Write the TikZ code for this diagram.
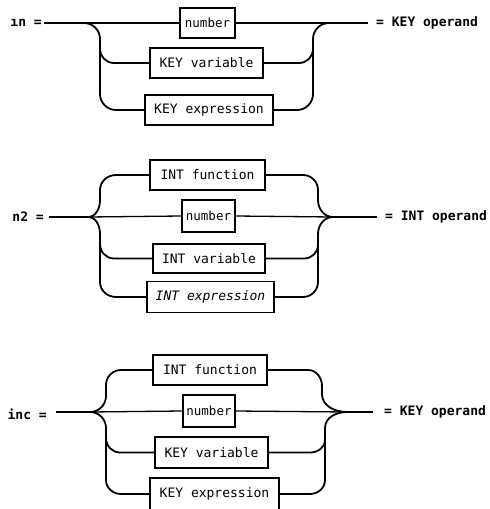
\documentclass[tikz,border=0pt]{standalone}
\usepackage{fontspec}
\newfontfamily\dmono{DejaVu Sans Mono}
\begin{document}
\begin{tikzpicture}[x=1pt,y=-1pt,
  bx/.style={draw,line width=1.3pt,inner sep=0pt,minimum height=30pt,font=\dmono\fontsize{13}{15}\selectfont},
  numbx/.style={bx,font=\dmono\fontsize{12.5}{14}\selectfont},
  conn/.style={line width=1.8pt},
  thin/.style={line width=1.3pt},
  lbl/.style={inner sep=0pt,font=\dmono\bfseries\fontsize{13}{15}\selectfont}]
\useasboundingbox (0,0) rectangle (490,509);
\clip (0,0) rectangle (490,509);

% ---------- diagram 1 ----------
\node[lbl,anchor=east] (l1) at (42,23) {ın =};
\node[numbx,minimum width=55pt] (n1) at (207.5,23) {number};
\node[bx,minimum width=113pt] (v1) at (206.5,63) {KEY variable};
\node[bx,minimum width=128pt] (x1) at (209,110) {KEY expression};
\node[lbl,anchor=west] (r1) at (376,23) {= KEY operand};
\coordinate (a1) at (44,23);
\coordinate (b1) at (76,23);
\coordinate (c1) at (338,23);
\coordinate (e1) at (368,23);
\draw[conn] (a1) -- (b1);
\draw[thin] (b1) -- (n1.west) (n1.east) -- (c1);
\draw[conn] (c1) -- (e1);
\draw[conn,rounded corners=16pt] (b1) -| (100,110) -- (x1.west);
\draw[conn,rounded corners=14pt] (100,45) |- (v1.west);
\draw[conn,rounded corners=16pt] (x1.east) -| (313,23) -- (c1);
\draw[conn,rounded corners=14pt] (v1.east) -| (313,45);

% ---------- diagram 2 ----------
\node[lbl,anchor=east] (l2) at (44,217) {n2 =};
\node[bx,minimum width=115pt] (f2) at (207.5,175) {INT function};
\node[numbx,minimum width=53pt,minimum height=32pt] (n2) at (208.5,216) {number};
\node[bx,minimum width=112pt,minimum height=29pt] (v2) at (209,258.5) {INT variable};
\node[bx,minimum width=127pt,minimum height=31pt,font=\dmono\itshape\fontsize{13}{15}\selectfont] (x2) at (210.5,297) {INT expression};
\node[lbl,anchor=west] (r2) at (385,217) {= INT operand};
\coordinate (a2) at (49,217);
\coordinate (s2) at (88,217);
\coordinate (m2) at (333,217);
\coordinate (e2) at (377,217);
\draw[conn] (a2) -- (s2);
\draw[thin] (s2) -- (n2.west) (n2.east) -- (m2);
\draw[conn] (m2) -- (e2);
\draw[conn] (s2) to[out=0,in=-90] (100,200) -- (100,190) to[out=90,in=180] (116,175) -- (f2.west);
\draw[conn] (s2) to[out=0,in=90] (100,234) -- (100,282) to[out=-90,in=180] (116,297) -- (x2.west);
\draw[conn] (100,244) to[out=-90,in=180] (114,258.5) -- (v2.west);
\draw[conn] (f2.east) -- (303,175) to[out=0,in=90] (318,190) -- (318,200) to[out=-90,in=180] (m2);
\draw[conn] (x2.east) -- (303,297) to[out=0,in=-90] (318,282) -- (318,234) to[out=90,in=180] (m2);
\draw[conn] (v2.east) -- (304,258.5) to[out=0,in=-90] (318,245);

% ---------- diagram 3 ----------
\node[lbl,anchor=east] (l3) at (47,414) {inc =};
\node[bx,minimum width=114pt] (f3) at (210,370) {INT function};
\node[numbx,minimum width=52pt,minimum height=32pt] (n3) at (209,411) {number};
\node[bx,minimum width=113pt,minimum height=31pt] (v3) at (211.5,452.5) {KEY variable};
\node[bx,minimum width=129pt,minimum height=32pt] (x3) at (214.5,494) {KEY expression};
\node[lbl,anchor=west] (r3) at (384,412) {= KEY operand};
\coordinate (a3) at (56,412);
\coordinate (s3) at (90,412);
\coordinate (m3) at (347,412);
\coordinate (e3) at (373,412);
\draw[conn] (a3) -- (s3);
\draw[thin] (s3) -- (n3.west) (n3.east) -- (m3);
\draw[conn] (m3) -- (e3);
\draw[conn] (s3) to[out=0,in=-90] (106,396) -- (106,385) to[out=90,in=180] (121,370) -- (f3.west);
\draw[conn] (s3) to[out=0,in=90] (106,428) -- (106,480) to[out=-90,in=180] (121,494) -- (x3.west);
\draw[conn] (106,438) to[out=-90,in=180] (120,452.5) -- (v3.west);
\draw[conn] (f3.east) -- (308,370) to[out=0,in=90] (322,386) -- (322,394) to[out=-90,in=180] (m3);
\draw[conn] (x3.east) -- (310,494) to[out=0,in=-90] (325,480) -- (325,428) to[out=90,in=180] (m3);
\draw[conn] (v3.east) -- (310,452.5) to[out=0,in=-90] (325,440);
\end{tikzpicture}
\end{document}
